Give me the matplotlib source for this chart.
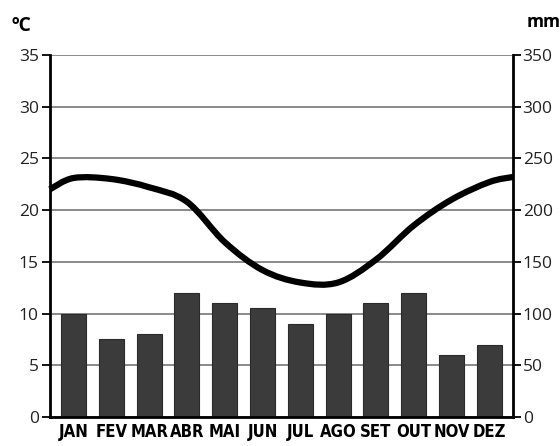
import numpy as np
import matplotlib
matplotlib.use("Agg")
from matplotlib import pyplot as plt
from matplotlib import font_manager
from matplotlib.path import Path
from matplotlib.patches import PathPatch

months = ["JAN", "FEV", "MAR", "ABR", "MAI", "JUN", "JUL", "AGO", "SET", "OUT", "NOV", "DEZ"]
rain_mm = [100, 75, 80, 120, 110, 105, 90, 100, 110, 120, 60, 70]
temp_c = [23.1, 23.0, 22.2, 20.8, 16.9, 14.2, 13.0, 13.0, 15.2, 18.5, 21.0, 22.7]
temp_left_edge = 22.0
temp_right_edge = 23.2

temp_ticks = [0, 5, 10, 15, 20, 25, 30, 35]
rain_ticks = [0, 50, 100, 150, 200, 250, 300, 350]

tick_font = "Open Sans"

# narrow bold face for the month names, if one is around
narrow = [f for f in font_manager.fontManager.ttflist
          if ("Narrow" in f.name or "Condensed" in f.name or f.stretch in ("condensed", "semi-condensed"))
          and f.weight in ("bold", 700)]
if narrow:
    month_prop = font_manager.FontProperties(fname=narrow[0].fname, size=12)
else:
    month_prop = font_manager.FontProperties(family="Roboto", weight="bold", size=10.5)


def smooth_path(xs, ys):
    # catmull-rom through the points, turned into cubic bezier segments
    pts = np.column_stack([xs, ys])
    verts = [pts[0]]
    codes = [Path.MOVETO]
    for i in range(len(pts) - 1):
        p0 = pts[i - 1] if i > 0 else pts[i]
        p1, p2 = pts[i], pts[i + 1]
        p3 = pts[i + 2] if i + 2 < len(pts) else pts[i + 1]
        c1 = p1 + (p2 - p0) / 6
        c2 = p2 - (p3 - p1) / 6
        verts += [c1, c2, p2]
        codes += [Path.CURVE4] * 3
    return Path(verts, codes)


fig = plt.figure(figsize=(5.6, 4.46), dpi=100)
ax2 = fig.add_axes([0.089, 0.065, 0.827, 0.812])
ax = ax2.twinx()
ax2.yaxis.tick_right()
ax.yaxis.tick_left()

x = np.arange(len(months))
xmin, xmax = -0.63, len(months) - 1 + 0.63

ax2.set_ylim(0, 350)
ax2.set_yticks(rain_ticks)
ax2.grid(axis="y", color="#8a8a8a", lw=1.4)
ax2.set_axisbelow(True)
ax2.bar(x, rain_mm, width=0.66, color="#3b3b3b", edgecolor="#2a2a2a", lw=0.8, zorder=2)

ax.set_zorder(ax2.get_zorder() + 1)
ax.patch.set_visible(False)
ax.set_ylim(0, 35)
ax.set_yticks(temp_ticks)
line_x = [xmin] + list(x) + [xmax]
line_y = [temp_left_edge] + temp_c + [temp_right_edge]
ax.add_patch(PathPatch(smooth_path(line_x, line_y), fill=False, lw=4.5, color="black",
                       capstyle="butt", joinstyle="round", clip_on=False))

ax2.set_xlim(xmin, xmax)
for a in (ax, ax2):
    for s in a.spines.values():
        s.set_visible(False)

for side in ("left", "right", "bottom"):
    ax2.spines[side].set_visible(True)
    ax2.spines[side].set_linewidth(2)

ax.tick_params(axis="y", which="both", left=True, right=False, labelleft=True, labelright=False,
               length=6, width=1.3, pad=2, labelsize=12.5)
ax2.tick_params(axis="y", which="both", left=False, right=True, labelleft=False, labelright=True,
                length=6, width=1.3, pad=1, labelsize=12.5)
for lab in ax.get_yticklabels() + ax2.get_yticklabels():
    lab.set_family(tick_font)
    lab.set_color("#222222")

ax2.set_xticks(x)
ax2.set_xticklabels(months, fontproperties=month_prop)
ax2.tick_params(axis="x", length=0, pad=4)

fig.text(0.02, 0.93, "ºC", family=tick_font, fontsize=14, weight="bold")
fig.text(0.94, 0.94, "mm", family=tick_font, fontsize=12.5, weight="bold")

fig.savefig("out.png", dpi=100)
